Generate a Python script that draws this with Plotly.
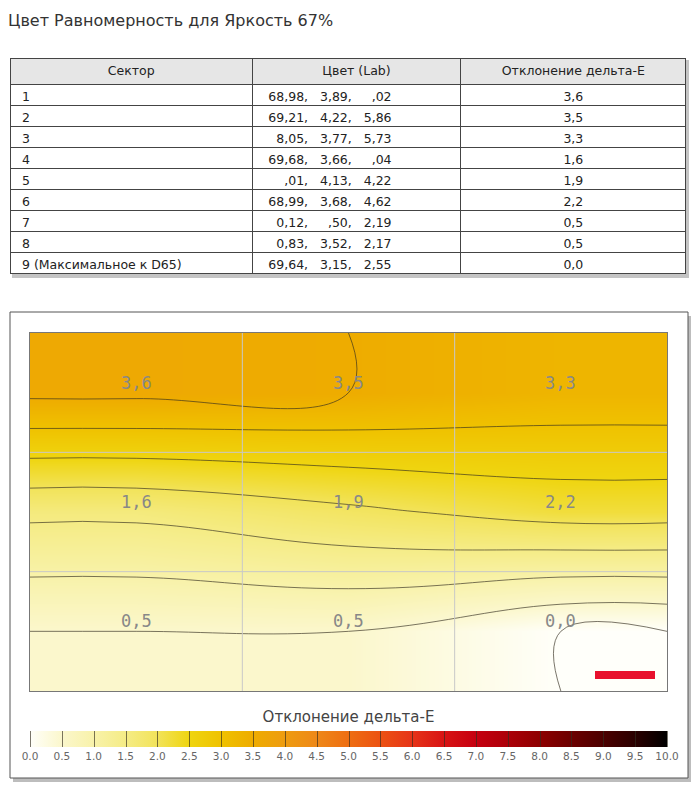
import numpy as np
import plotly.graph_objects as go

# table data
sectors = ["1", "2", "3", "4", "5", "6", "7", "8", "9 (Максимальное к D65)"]
lab_L = ["68,98", "69,21", "8,05", "69,68", ",01", "68,99", "0,12", "0,83", "69,64"]
lab_a = ["3,89", "4,22", "3,77", "3,66", "4,13", "3,68", ",50", "3,52", "3,15"]
lab_b = [",02", "5,86", "5,73", ",04", "4,22", "4,62", "2,19", "2,17", "2,55"]
delta_e = [3.6, 3.5, 3.3, 1.6, 1.9, 2.2, 0.5, 0.5, 0.0]

title = "Цвет Равномерность для Яркость 67%"
headers = ["Сектор", "Цвет (Lab)", "Отклонение дельта-E"]
cbar_title = "Отклонение дельта-E"

W, H = 697, 793
FONT = "DejaVu Sans"


def px(x):
    return x / W


def py(y):
    return 1 - y / H


def fmt(v):
    return f"{v:.1f}".replace(".", ",")


FS = "\u2007"   # figure space, digit width
NB = "\u00a0"


def lab_text(L, a, b):
    return (NB * 2 + L.rjust(5, FS) + "," + NB * 3 + a.rjust(4, FS) + "," + NB * 3 + b.rjust(4, FS))


col1 = [NB + s for s in sectors]
col2 = [lab_text(L, a, b) for L, a, b in zip(lab_L, lab_a, lab_b)]
col3 = [fmt(v) for v in delta_e]

# 3x3 sector grid (row 0 on top), edges clamped so the field fills the box
z = np.array(delta_e).reshape(3, 3)
zp = np.pad(z, 1, mode="edge")
gx = [0, 0.5, 1.5, 2.5, 3]
gy = [0, 0.5, 1.5, 2.5, 3]

colorscale = [
    [0.00, "#fffffa"], [0.05, "#fbf7cc"], [0.10, "#f8f2aa"], [0.15, "#f5ec86"],
    [0.20, "#f2e35a"], [0.25, "#efd510"], [0.30, "#efc200"], [0.35, "#eeac00"],
    [0.40, "#ee9c10"], [0.45, "#ee8818"], [0.50, "#ee6e12"], [0.55, "#ec5212"],
    [0.60, "#e63418"], [0.65, "#d81414"], [0.70, "#c60010"], [0.75, "#ac0008"],
    [0.80, "#8e0000"], [0.85, "#6c0000"], [0.90, "#4c0000"], [0.95, "#2a0000"],
    [1.00, "#000000"],
]

fig = go.Figure()

fig.add_trace(go.Table(
    domain=dict(x=[px(10), px(686)], y=[py(275), py(58)]),
    columnwidth=[242, 208, 225],
    header=dict(values=headers, fill_color="#e6e6e6", line_color="#444",
                align="center", height=26,
                font=dict(family=FONT, size=12.5, color="#222")),
    cells=dict(values=[col1, col2, col3], fill_color="white", line_color="#444",
               align=["left", "left", "center"], height=21,
               font=dict(family=FONT, size=12.5, color="#222")),
))

fig.add_trace(go.Contour(
    x=gx, y=gy, z=zp,
    zmin=0, zmax=10, colorscale=colorscale,
    contours=dict(start=0, end=10, size=0.5, coloring="heatmap"),
    line=dict(color="rgba(50,45,30,0.65)", width=1, smoothing=1.3),
    hoverinfo="skip",
    colorbar=dict(
        orientation="h", x=0.5, xanchor="center", y=py(713), yanchor="top",
        len=637 / W, lenmode="fraction", thickness=16, thicknessmode="pixels",
        outlinewidth=0, xpad=0, ypad=0,
        tickmode="linear", tick0=0, dtick=0.5, tickformat=".1f", ticks="",
        tickfont=dict(family=FONT, size=10.5, color="#666"),
        title=dict(text=cbar_title, side="top",
                   font=dict(family=FONT, size=15, color="#444")),
    ),
))

# sector values written in the middle of each cell
for i in range(3):
    for j in range(3):
        fig.add_annotation(x=j + 0.5, y=i + 0.5, xref="x", yref="y", text=fmt(z[i, j]),
                           showarrow=False, yshift=10,
                           font=dict(family="DejaVu Sans Mono", size=17, color="#888"))

fig.add_annotation(x=px(6), y=py(20), xref="paper", yref="paper", text=title,
                   showarrow=False, xanchor="left", yanchor="middle",
                   font=dict(family=FONT, size=16, color="#333"))

shapes = []
# shadows and frames
shapes.append(dict(type="rect", xref="paper", yref="paper", layer="below",
                   x0=px(12), x1=px(689), y0=py(278), y1=py(60),
                   line=dict(width=0), fillcolor="#c4c4c4"))
shapes.append(dict(type="rect", xref="paper", yref="paper", layer="below",
                   x0=px(13), x1=px(691), y0=py(782), y1=py(316),
                   line=dict(width=0), fillcolor="#bdbdbd"))
shapes.append(dict(type="rect", xref="paper", yref="paper", layer="below",
                   x0=px(10), x1=px(688), y0=py(778), y1=py(312),
                   line=dict(color="#555", width=1), fillcolor="white"))
# sector grid
for k in (1, 2):
    shapes.append(dict(type="line", xref="x", yref="y", x0=k, x1=k, y0=0, y1=3,
                       line=dict(color="#c8c8c8", width=1), layer="above"))
    shapes.append(dict(type="line", xref="x", yref="y", x0=0, x1=3, y0=k, y1=k,
                       line=dict(color="#c8c8c8", width=1), layer="above"))
# red marker
shapes.append(dict(type="rect", xref="paper", yref="paper", x0=px(595), x1=px(655),
                   y0=py(679), y1=py(671), line=dict(width=0), fillcolor="#e8112d"))

fig.update_layout(
    width=W, height=H, margin=dict(l=0, r=0, t=0, b=0),
    paper_bgcolor="white", plot_bgcolor="white", showlegend=False,
    shapes=shapes,
    xaxis=dict(domain=[px(30), px(667)], range=[0, 3], showgrid=False, zeroline=False,
               showticklabels=False, ticks="", showline=True, linecolor="#777",
               mirror=True, layer="above traces"),
    yaxis=dict(domain=[py(691), py(333)], range=[3, 0], showgrid=False, zeroline=False,
               showticklabels=False, ticks="", showline=True, linecolor="#777",
               mirror=True, layer="above traces"),
)

fig.write_html("out.html", config={"displayModeBar": False},
               post_script="document.body.style.margin='0';")
